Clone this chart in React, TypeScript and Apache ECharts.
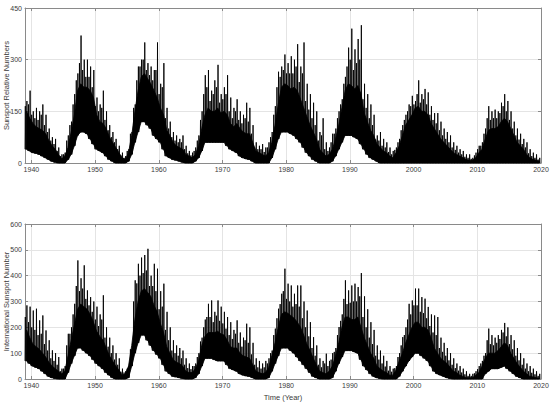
import React, { useEffect, useRef } from "react";
import * as echarts from "echarts";

// Start year of the record; samples are half-yearly (two per year, 1939..2019)
const startYear = 1939;
const xTicks = [1940, 1950, 1960, 1970, 1980, 1990, 2000, 2010, 2020];

// ---- Top panel: Sunspot Relative Numbers ----
// highest spike per half-year
const topPeak = [
  180, 210, 150, 160, 150, 170, 140, 100, 75, 70, 45, 25, 30, 80, 120, 200,
  260, 370, 300, 300, 280, 270, 190, 170, 210, 150, 110, 90, 70, 50, 30, 20,
  40, 90, 170, 280, 300, 350, 290, 280, 270, 350, 230, 290, 160, 120, 90, 80,
  70, 80, 50, 35, 30, 45, 80, 150, 255, 270, 210, 240, 285, 200, 220, 255,
  190, 160, 185, 150, 140, 175, 160, 110, 60, 50, 55, 45, 60, 90, 165, 265,
  280, 315, 290, 310, 300, 345, 280, 350, 230, 200, 175, 150, 90, 130, 60, 45,
  85, 100, 150, 185, 250, 335, 390, 330, 360, 400, 230, 200, 170, 140, 80, 90,
  70, 60, 45, 35, 45, 70, 110, 140, 170, 195, 180, 240, 200, 215, 205, 165,
  145, 145, 120, 100, 90, 80, 60, 50, 40, 35, 25, 25, 15, 30, 50, 60,
  100, 165, 150, 155, 150, 175, 200, 180, 150, 120, 100, 85, 70, 60, 40, 30,
  25, 15,
];
// second-highest spike per half-year
const topSub = [
  165, 170, 140, 130, 125, 140, 110, 90, 65, 55, 35, 20, 25, 65, 110, 170,
  240, 290, 270, 250, 250, 220, 165, 150, 160, 125, 95, 75, 60, 40, 22, 15,
  35, 85, 160, 240, 280, 300, 270, 255, 240, 270, 200, 220, 130, 100, 75, 65,
  60, 60, 40, 28, 22, 35, 65, 125, 200, 220, 180, 200, 220, 175, 185, 200,
  150, 130, 150, 125, 115, 130, 120, 85, 45, 40, 40, 32, 45, 75, 140, 220,
  250, 270, 260, 260, 260, 280, 235, 260, 180, 155, 130, 110, 65, 80, 40, 35,
  60, 85, 130, 170, 230, 280, 300, 270, 290, 300, 185, 160, 130, 110, 68, 65,
  50, 45, 32, 25, 38, 60, 95, 125, 150, 165, 170, 200, 175, 185, 170, 140,
  125, 115, 95, 80, 70, 60, 45, 38, 30, 25, 18, 15, 12, 22, 40, 50,
  85, 130, 125, 130, 130, 145, 165, 150, 125, 100, 80, 68, 55, 45, 28, 20,
  15, 10,
];
// top of the dense core per half-year
const topCore = [
  150, 130, 115, 105, 100, 95, 85, 65, 50, 40, 25, 12, 20, 45, 90, 140,
  210, 230, 220, 220, 210, 190, 140, 120, 115, 100, 75, 60, 45, 30, 15, 10,
  30, 80, 150, 210, 250, 260, 245, 230, 210, 190, 160, 140, 95, 80, 60, 50,
  45, 40, 25, 20, 15, 25, 50, 100, 140, 160, 150, 150, 160, 145, 150, 140,
  115, 105, 115, 100, 90, 85, 85, 60, 35, 30, 25, 20, 30, 60, 110, 170,
  220, 230, 225, 215, 220, 210, 185, 160, 135, 110, 90, 70, 40, 30, 20, 25,
  40, 70, 110, 160, 210, 230, 225, 215, 225, 200, 145, 120, 95, 80, 55, 45,
  35, 30, 20, 15, 30, 50, 80, 110, 125, 140, 160, 165, 150, 150, 140, 115,
  100, 85, 70, 60, 50, 40, 30, 25, 20, 15, 10, 8, 8, 15, 30, 40,
  70, 95, 100, 100, 105, 120, 130, 120, 100, 80, 60, 50, 40, 25, 15, 10,
  8, 5,
];
// lower edge per half-year
const topBase = [
  40, 35, 30, 28, 25, 20, 15, 10, 5, 2, 0, 0, 0, 10, 25, 50,
  80, 90, 90, 85, 70, 55, 40, 35, 30, 20, 10, 5, 0, 0, 0, 0,
  5, 25, 60, 90, 120, 120, 110, 100, 80, 70, 60, 40, 20, 15, 10, 8,
  5, 2, 0, 0, 0, 5, 15, 35, 60, 60, 60, 60, 60, 60, 60, 50,
  40, 35, 30, 20, 15, 12, 10, 5, 0, 0, 0, 0, 0, 15, 40, 70,
  90, 90, 90, 85, 80, 70, 60, 45, 30, 20, 10, 5, 0, 0, 0, 0,
  5, 20, 40, 60, 80, 80, 80, 75, 70, 55, 40, 25, 15, 10, 5, 0,
  0, 0, 0, 0, 0, 0, 0, 0, 0, 0, 0, 0, 0, 0, 0, 0,
  0, 0, 0, 0, 0, 0, 0, 0, 0, 0, 0, 0, 0, 0, 0, 0,
  0, 0, 0, 0, 0, 0, 0, 0, 0, 0, 0, 0, 0, 0, 0, 0,
  0, 0,
];

// ---- Bottom panel: International Sunspot Number ----
const botPeak = [
  285, 280, 265, 272, 227, 246, 188, 150, 111, 100, 85, 40, 50, 175, 200, 291,
  459, 390, 440, 343, 317, 300, 280, 250, 324, 200, 160, 130, 100, 80, 40, 30,
  50, 100, 382, 446, 470, 480, 504, 400, 446, 427, 340, 369, 260, 200, 150, 130,
  120, 110, 80, 60, 50, 60, 100, 160, 230, 291, 304, 260, 304, 280, 260, 240,
  220, 190, 227, 180, 160, 214, 200, 140, 80, 70, 60, 70, 80, 110, 195, 272,
  330, 427, 369, 362, 330, 362, 362, 300, 265, 220, 162, 130, 80, 70, 98, 70,
  100, 120, 201, 250, 382, 343, 362, 369, 356, 410, 320, 270, 220, 190, 130, 110,
  90, 70, 50, 40, 50, 100, 162, 200, 291, 304, 350, 350, 317, 311, 279, 250,
  246, 240, 160, 140, 120, 100, 80, 60, 50, 40, 30, 20, 20, 30, 50, 70,
  100, 195, 170, 160, 170, 190, 217, 200, 170, 150, 120, 100, 80, 60, 50, 40,
  30, 20,
];
const botSub = [
  240, 220, 200, 190, 170, 175, 135, 110, 80, 70, 55, 30, 40, 130, 175, 250,
  360, 340, 350, 310, 285, 260, 230, 205, 230, 160, 125, 100, 75, 55, 28, 25,
  40, 115, 300, 370, 400, 410, 420, 360, 360, 340, 270, 280, 190, 150, 110, 100,
  90, 80, 55, 42, 38, 50, 85, 145, 200, 240, 240, 220, 245, 225, 215, 195,
  170, 155, 175, 140, 125, 150, 140, 95, 55, 45, 40, 45, 60, 100, 170, 235,
  290, 340, 310, 300, 280, 290, 280, 235, 200, 165, 120, 90, 55, 45, 60, 50,
  75, 105, 170, 225, 310, 290, 295, 300, 300, 320, 240, 200, 160, 135, 90, 75,
  60, 48, 32, 28, 42, 85, 130, 170, 230, 250, 285, 285, 260, 255, 235, 205,
  180, 170, 120, 105, 90, 72, 55, 42, 32, 25, 18, 12, 12, 22, 38, 60,
  90, 150, 135, 130, 140, 155, 180, 165, 135, 115, 90, 72, 55, 40, 30, 24,
  18, 12,
];
const botCore = [
  190, 160, 135, 125, 115, 100, 85, 65, 50, 40, 30, 20, 30, 90, 150, 210,
  270, 290, 280, 270, 250, 220, 185, 165, 150, 120, 90, 70, 50, 35, 15, 20,
  50, 130, 230, 300, 340, 350, 335, 320, 285, 260, 215, 180, 125, 100, 75, 65,
  60, 50, 30, 25, 25, 40, 70, 130, 165, 180, 180, 180, 185, 175, 170, 150,
  125, 120, 120, 100, 90, 85, 80, 55, 30, 25, 20, 25, 45, 90, 140, 200,
  250, 260, 255, 245, 235, 220, 200, 170, 135, 110, 80, 55, 30, 25, 20, 30,
  50, 90, 140, 200, 240, 240, 230, 230, 240, 200, 160, 130, 100, 80, 50, 40,
  30, 25, 15, 15, 35, 70, 100, 140, 170, 200, 220, 220, 200, 200, 190, 160,
  120, 100, 80, 70, 60, 45, 30, 25, 15, 10, 5, 5, 5, 15, 25, 50,
  80, 100, 100, 100, 110, 125, 140, 130, 100, 80, 60, 45, 30, 20, 10, 8,
  5, 3,
];
const botBase = [
  70, 60, 50, 45, 40, 30, 20, 10, 5, 2, 0, 0, 0, 25, 60, 90,
  120, 120, 110, 100, 90, 75, 60, 50, 40, 25, 15, 5, 0, 0, 0, 0,
  5, 50, 100, 140, 170, 170, 150, 130, 110, 95, 80, 55, 30, 20, 10, 8,
  5, 2, 0, 0, 0, 5, 20, 50, 80, 80, 80, 75, 70, 70, 70, 55,
  40, 35, 30, 20, 15, 12, 10, 5, 0, 0, 0, 0, 5, 30, 60, 90,
  120, 120, 120, 110, 100, 85, 70, 55, 40, 25, 10, 5, 0, 0, 0, 0,
  5, 30, 60, 85, 110, 110, 110, 105, 100, 75, 50, 35, 20, 10, 5, 2,
  0, 0, 0, 0, 0, 10, 30, 50, 70, 85, 100, 100, 90, 80, 70, 50,
  30, 20, 15, 10, 5, 2, 0, 0, 0, 0, 0, 0, 0, 0, 0, 0,
  20, 30, 40, 40, 40, 45, 50, 40, 30, 20, 10, 5, 0, 0, 0, 0,
  0, 0,
];

const halfYear = (i: number) => startYear + i * 0.5;

// Dense core: one polygon between the lower edge and the core top, placed through the axes
function bandSeries(base: number[], core: number[], axis: number) {
  return {
    type: "custom",
    xAxisIndex: axis,
    yAxisIndex: axis,
    data: [[halfYear(0), 0]],
    silent: true,
    renderItem: (_params: any, api: any) => {
      const upper = core.map((c, i) => api.coord([halfYear(i) + 0.25, c]));
      const lower = base.map((b, i) => api.coord([halfYear(i) + 0.25, b])).reverse();
      return {
        type: "polygon",
        shape: { points: [...upper, ...lower] },
        style: { fill: "#000", stroke: "#000", lineWidth: 0.8 },
      };
    },
  };
}

// Spikes: two per half-year, rooted at the lower edge
function spikeSeries(peak: number[], sub: number[], base: number[], axis: number) {
  const pts: number[][] = [];
  for (let i = 0; i < peak.length; i++) {
    const t = halfYear(i);
    pts.push([t + 0.0, base[i]]);
    pts.push([t + 0.05, sub[i]]);
    pts.push([t + 0.1, base[i]]);
    pts.push([t + 0.25, base[i]]);
    pts.push([t + 0.3, peak[i]]);
    pts.push([t + 0.35, base[i]]);
  }
  return {
    type: "line",
    xAxisIndex: axis,
    yAxisIndex: axis,
    data: pts,
    showSymbol: false,
    symbol: "none",
    lineStyle: { color: "#000", width: 0.9 },
    clip: true,
    silent: true,
  };
}

const FONT = "Liberation Sans, Arial, sans-serif";
const AX = "#8a8a8a";
const LBL = "#3a3a3a";
const GRID = "#e4e4e4";

function xAxisPair(gridIndex: number, withName: boolean) {
  const common = {
    type: "value",
    gridIndex,
    min: 1939,
    max: 2020,
    axisLine: { show: true, onZero: false, lineStyle: { color: AX, width: 1 } },
    axisTick: { show: true, inside: true, length: 3, customValues: xTicks, lineStyle: { color: AX } },
  };
  return [
    {
      ...common,
      position: "bottom",
      axisLabel: {
        show: true,
        customValues: xTicks,
        color: LBL,
        fontSize: 7,
        fontFamily: FONT,
        margin: 3,
        formatter: (v: number) => String(v),
      },
      splitLine: { show: true, lineStyle: { color: GRID, width: 1 } },
      name: withName ? "Time (Year)" : "",
      nameLocation: "middle",
      nameGap: 14,
      nameMoveOverlap: false,
      nameTextStyle: { color: LBL, fontSize: 7.5, fontFamily: FONT },
    },
    {
      ...common,
      position: "top",
      axisLabel: { show: false },
      splitLine: { show: false },
    },
  ];
}

function yAxisPair(gridIndex: number, max: number, interval: number, name: string) {
  const common = {
    type: "value",
    gridIndex,
    min: 0,
    max,
    interval,
    axisLine: { show: true, lineStyle: { color: AX, width: 1 } },
    axisTick: { show: true, inside: true, length: 3, lineStyle: { color: AX } },
  };
  return [
    {
      ...common,
      position: "left",
      axisLabel: {
        show: true,
        color: LBL,
        fontSize: 7,
        fontFamily: FONT,
        margin: 3,
        formatter: (v: number) => String(v),
      },
      splitLine: { show: true, lineStyle: { color: GRID, width: 1 } },
      name,
      nameLocation: "middle",
      nameGap: 15,
      nameMoveOverlap: false,
      nameTextStyle: { color: LBL, fontSize: 7.5, fontFamily: FONT },
    },
    {
      ...common,
      position: "right",
      axisLabel: { show: false },
      splitLine: { show: false },
    },
  ];
}

export default function App() {
  const ref = useRef<HTMLDivElement>(null);
  useEffect(() => {
    if (!ref.current) return;
    const chart = echarts.init(ref.current, undefined, { renderer: "svg" });
    chart.setOption({
      animation: false,
      backgroundColor: "#ffffff",
      grid: [
        { left: 25, top: 8, right: 9, height: 155, containLabel: false, outerBoundsMode: "none" },
        { left: 25, top: 224, right: 9, height: 155, containLabel: false, outerBoundsMode: "none" },
      ],
      xAxis: [...xAxisPair(0, false), ...xAxisPair(1, true)],
      yAxis: [
        ...yAxisPair(0, 450, 150, "Sunspot Relative Numbers"),
        ...yAxisPair(1, 600, 100, "International Sunspot Number"),
      ],
      series: [
        bandSeries(topBase, topCore, 0),
        spikeSeries(topPeak, topSub, topBase, 0),
        bandSeries(botBase, botCore, 2),
        spikeSeries(botPeak, botSub, botBase, 2),
      ],
    });
    return () => chart.dispose();
  }, []);
  return (
    <div
      ref={ref}
      style={{ position: "absolute", left: 0, top: 0, width: 550, height: 403, background: "#fff" }}
    />
  );
}
